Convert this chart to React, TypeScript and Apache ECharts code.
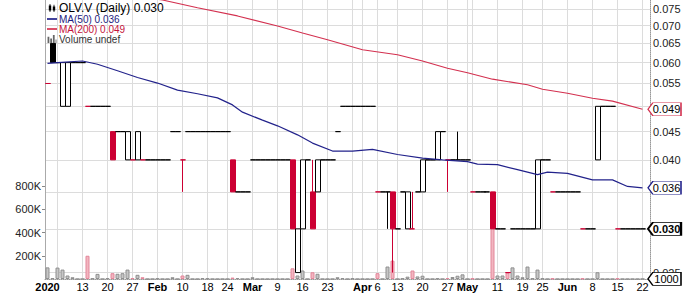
import React, { useEffect, useRef } from 'react';
import * as echarts from 'echarts';

// Trading days (2020), one slot per session
const dates = [
  '01-02','01-03','01-06','01-07','01-08','01-09','01-10','01-13','01-14','01-15',
  '01-16','01-17','01-20','01-21','01-22','01-23','01-24','01-27','01-28','01-29',
  '01-30','01-31','02-03','02-04','02-05','02-06','02-07','02-10','02-11','02-12',
  '02-13','02-14','02-18','02-19','02-20','02-21','02-24','02-25','02-26','02-27',
  '02-28','03-02','03-03','03-04','03-05','03-06','03-09','03-10','03-11','03-12',
  '03-13','03-16','03-17','03-18','03-19','03-20','03-23','03-24','03-25','03-26',
  '03-27','03-30','03-31','04-01','04-02','04-03','04-06','04-07','04-08','04-09',
  '04-13','04-14','04-15','04-16','04-17','04-20','04-21','04-22','04-23','04-24',
  '04-27','04-28','04-29','04-30','05-01','05-04','05-05','05-06','05-07','05-08',
  '05-11','05-12','05-13','05-14','05-15','05-19','05-20','05-21','05-22','05-25',
  '05-26','05-27','05-28','05-29','06-01','06-02','06-03','06-04','06-05','06-08',
  '06-09','06-10','06-11','06-12','06-15','06-16','06-17','06-18','06-19','06-22',
];

const opens = [
  .055,.065,.060,.050,.050,.060,.060,.060,.050,.050,
  .050,.050,.050,.045,.045,.045,.040,.040,.040,.040,
  .040,.040,.040,.040,.040,.045,.045,.040,.045,.045,
  .045,.045,.045,.045,.045,.045,.045,.040,.035,.035,
  .035,.040,.040,.040,.040,.040,.040,.040,.040,.040,
  .025,.030,.040,.035,.035,.040,.040,.040,.045,.050,
  .050,.050,.050,.050,.050,.050,.035,.035,.035,.035,
  .030,.035,.030,.030,.035,.035,.040,.040,.040,.045,
  .040,.040,.040,.040,.040,.035,.035,.035,.035,.035,
  .030,.030,.025,.030,.030,.030,.030,.030,.030,.040,
  .040,.035,.035,.035,.035,.035,.035,.030,.030,.030,
  .040,.050,.050,.050,.030,.030,.030,.030,.030,.030,
];
const highs = [
  .055,.065,.060,.060,.060,.060,.060,.060,.050,.050,
  .050,.050,.050,.045,.045,.045,.045,.040,.045,.040,
  .040,.040,.040,.040,.040,.045,.045,.040,.045,.045,
  .045,.045,.045,.045,.045,.045,.045,.040,.035,.035,
  .035,.040,.040,.040,.040,.040,.040,.040,.040,.040,
  .030,.040,.040,.040,.040,.040,.040,.040,.045,.050,
  .050,.050,.050,.050,.050,.050,.035,.035,.035,.035,
  .030,.035,.035,.035,.035,.040,.040,.040,.045,.045,
  .040,.040,.045,.040,.040,.035,.035,.035,.035,.035,
  .030,.030,.025,.030,.030,.030,.030,.030,.040,.040,
  .040,.035,.035,.035,.035,.035,.035,.030,.030,.030,
  .050,.050,.050,.050,.030,.030,.030,.030,.030,.030,
];
const lows = [
  .055,.060,.060,.050,.050,.060,.060,.060,.050,.050,
  .050,.050,.050,.040,.045,.045,.040,.040,.040,.040,
  .040,.040,.040,.040,.040,.045,.045,.035,.045,.045,
  .045,.045,.045,.045,.045,.045,.045,.035,.035,.035,
  .035,.040,.040,.040,.040,.040,.040,.040,.040,.030,
  .025,.030,.040,.030,.035,.040,.040,.040,.045,.050,
  .050,.050,.050,.050,.050,.050,.035,.035,.030,.025,
  .030,.035,.030,.030,.035,.035,.040,.040,.040,.045,
  .035,.040,.040,.040,.040,.035,.035,.035,.035,.030,
  .030,.030,.025,.030,.030,.030,.030,.030,.030,.040,
  .040,.035,.035,.035,.035,.035,.035,.030,.030,.030,
  .040,.050,.050,.050,.030,.030,.030,.030,.030,.030,
];
const closes = [
  .055,.060,.060,.060,.060,.060,.060,.060,.050,.050,
  .050,.050,.050,.040,.045,.045,.045,.040,.045,.040,
  .040,.040,.040,.040,.040,.045,.045,.040,.045,.045,
  .045,.045,.045,.045,.045,.045,.045,.035,.035,.035,
  .035,.040,.040,.040,.040,.040,.040,.040,.040,.030,
  .030,.040,.040,.030,.040,.040,.040,.040,.045,.050,
  .050,.050,.050,.050,.050,.050,.035,.035,.035,.030,
  .030,.035,.035,.030,.035,.040,.040,.040,.045,.045,
  .040,.040,.040,.040,.040,.035,.035,.035,.035,.030,
  .030,.030,.025,.030,.030,.030,.030,.030,.040,.040,
  .040,.035,.035,.035,.035,.035,.035,.030,.030,.030,
  .050,.050,.050,.050,.030,.030,.030,.030,.030,.030,
];
const prevCloseBeforeStart = 0.060;

const volumes = [
  100000, 7000, 98000, 81000, 30000, 15000, 0, 0, 200000, 5000,
  44000, 0, 7000, 50000, 45000, 50000, 81000, 7000, 36000, 15000,
  0, 0, 5000, 0, 0, 15000, 0, 30000, 36000, 0,
  0, 7000, 5000, 0, 0, 0, 0, 12000, 8000, 0,
  0, 15000, 0, 0, 0, 0, 0, 0, 0, 92000,
  30000, 73000, 0, 58000, 45000, 0, 0, 0, 15000, 7000,
  0, 5000, 0, 0, 0, 0, 50000, 0, 107000, 158000,
  0, 5000, 20000, 73000, 22000, 28000, 0, 0, 5000, 0,
  8000, 17000, 28000, 40000, 0, 5000, 0, 0, 0, 450000,
  30000, 30000, 55000, 100000, 30000, 15000, 107000, 5000, 81000, 5000,
  0, 5000, 0, 0, 0, 0, 0, 5000, 0, 0,
  58000, 0, 0, 0, 5000, 0, 0, 0, 0, 1000,
];

const ma50Dates = ['01-02','01-06','01-13','01-16','01-22','01-28','02-03','02-07','02-13','02-20','02-25','02-27','03-04','03-09','03-13','03-18','03-24','03-30','04-03','04-13','04-20','04-24','05-01','05-05','05-11','05-15','05-22','05-26','06-01','06-08','06-12','06-17','06-22'];
const ma50Values = [0.0598,0.0600,0.0604,0.0596,0.0580,0.0564,0.0551,0.0535,0.0527,0.0518,0.0503,0.0488,0.0472,0.0461,0.0444,0.0429,0.0415,0.0415,0.0418,0.0409,0.0403,0.0400,0.0397,0.0393,0.0392,0.0384,0.0376,0.0380,0.0378,0.0368,0.0368,0.0358,0.0356];

const ma200Dates = ['01-29','02-04','02-13','02-26','03-09','03-16','03-23','04-01','04-13','04-20','04-27','05-01','05-08','05-20','05-25','06-01','06-08','06-12','06-22'];
const ma200Values = [0.0789,0.0779,0.0754,0.0729,0.0699,0.0679,0.0660,0.0633,0.0620,0.0604,0.0586,0.0575,0.0560,0.0547,0.0537,0.0528,0.0517,0.0511,0.0494];

const priceGridTicks = [0.025,0.030,0.035,0.040,0.045,0.050,0.055,0.060,0.065,0.070,0.075];
const priceLabelTicks = [0.025,0.040,0.045,0.055,0.060,0.065,0.070,0.075];
const priceMin = 0.02434;
const priceMax = 0.0779;
const volumeTicks = [200000, 400000, 600000, 800000];
const volumeMax = 2400000;

const xLabelDates = ['01-02','01-13','01-20','01-27','02-03','02-10','02-18','02-24','03-02','03-09','03-16','03-23','04-01','04-06','04-13','04-20','04-27','05-01','05-11','05-19','05-25','06-01','06-08','06-15','06-22'];
const xLabelTexts = ['2020','13','20','27','Feb','10','18','24','Mar','9','16','23','Apr','6','13','20','27','May','11','19','25','Jun','8','15','22'];
const monthTexts = ['2020','Feb','Mar','Apr','May','Jun'];
const gridDates = ['01-06','01-13','01-20','01-27','02-03','02-10','02-18','02-24','03-02','03-09','03-16','03-23','03-30','04-01','04-06','04-13','04-20','04-27','05-01','05-04','05-11','05-19','05-25','06-01','06-08','06-15','06-22'];

const FONT = 'Liberation Sans, Arial, sans-serif';
const RED = '#cc0033';
const BLACK = '#000000';
const MA50_COLOR = '#22228b';
const MA200_COLOR = '#d3304f';

const L = (v: number) => Math.log10(v);

const TAG_PATH = 'path://M0,6L5,0L34,0L34,12L5,12Z';

function tag(coord: [number, number], text: string, color: string, bold = false, bw = 1) {
  return {
    silent: true,
    symbol: TAG_PATH,
    symbolSize: [33, 13],
    symbolKeepAspect: false,
    symbolOffset: [22, 0],
    itemStyle: { color: '#ffffff', borderColor: color, borderWidth: bw },
    label: {
      show: true, position: 'inside', formatter: text, color: '#000',
      fontSize: 11, fontWeight: bold ? 'bold' : 'normal', fontFamily: FONT, offset: [2, 0],
    },
    data: [{ coord }],
  };
}

export default function App() {
  const ref = useRef<HTMLDivElement>(null);
  useEffect(() => {
    if (!ref.current) return;
    const chart = echarts.init(ref.current, undefined, { renderer: 'svg' });
    const last = dates.length - 1;

    const candleData = dates.map((_, i) => {
      const prev = i === 0 ? prevCloseBeforeStart : closes[i - 1];
      const col = closes[i] < prev ? RED : BLACK;
      const fill = closes[i] > opens[i] ? '#ffffff' : col;
      return {
        value: [L(opens[i]), L(closes[i]), L(lows[i]), L(highs[i])],
        itemStyle: { color: fill, color0: fill, borderColor: col, borderColor0: col, borderColorDoji: col },
      };
    });
    const volData = dates.map((_, i) => {
      const prev = i === 0 ? prevCloseBeforeStart : closes[i - 1];
      const down = closes[i] < prev && i > 0;
      return {
        value: volumes[i],
        itemStyle: down
          ? { color: '#f2b6c0', borderColor: '#e3869a', borderWidth: 1 }
          : { color: '#c6c6c6', borderColor: '#8f8f8f', borderWidth: 1 },
      };
    });
    const maSeries = (ds: string[], vs: number[]) =>
      dates.map((d) => {
        const k = ds.indexOf(d);
        return k >= 0 ? L(vs[k]) : null;
      });

    const option: any = {
      animation: false,
      grid: { left: 45, top: 0, width: 605, height: 279 },
      legend: {
        orient: 'vertical', left: 42, top: -3, itemWidth: 10, itemHeight: 8, itemGap: 0,
        selectedMode: false,
        textStyle: { fontFamily: FONT, fontSize: 10, lineHeight: 10, padding: [0, 0, 0, -3] },
        formatter: (name: string) => {
          if (name === 'OLV.V (Daily)') return name + ' ' + closes[last].toFixed(3);
          if (name === 'MA(50)') return name + ' ' + ma50Values[ma50Values.length - 1].toFixed(3);
          if (name === 'MA(200)') return name + ' ' + ma200Values[ma200Values.length - 1].toFixed(3);
          return name + ' undef';
        },
        data: [
          { name: 'OLV.V (Daily)', icon: 'path://M1,0h1v2h1v6h-1v2h-1v-2h-1v-6h1z M6,1h1v2h1v5h-1v2h-1v-2h-1v-5h1z', itemStyle: { color: '#000', borderWidth: 0 }, textStyle: { color: '#000', fontSize: 12, lineHeight: 11 } },
          { name: 'MA(50)', icon: 'path://M0,4h10v1.7h-10z', itemStyle: { color: MA50_COLOR }, textStyle: { color: '#1c1c80' } },
          { name: 'MA(200)', icon: 'path://M0,4h10v1.7h-10z', itemStyle: { color: MA200_COLOR }, textStyle: { color: '#c4143c' } },
          { name: 'Volume', icon: 'path://M0,3h2v7h-2z M3,5h2v5h-2z M6,1h2v9h-2z M9,6h1v4h-1z', itemStyle: { color: '#666', borderWidth: 0 }, textStyle: { color: '#333' } },
        ],
      },
      xAxis: {
        type: 'category', data: dates, boundaryGap: true, max: dates.length,
        axisLine: { show: true, lineStyle: { color: '#999', type: 'dotted' } },
        axisTick: { show: false },
        axisLabel: {
          interval: (_i: number, v: string) => xLabelDates.indexOf(v) >= 0,
          formatter: (v: string) => {
            const k = xLabelDates.indexOf(v);
            if (k < 0) return '';
            const t = xLabelTexts[k];
            return monthTexts.indexOf(t) >= 0 ? '{b|' + t + '}' : t;
          },
          margin: 2, fontSize: 11, color: '#000', fontFamily: FONT,
          rich: { b: { fontWeight: 'bold', fontSize: 11, color: '#000', fontFamily: FONT } },
        },
        splitLine: {
          show: true, alignWithLabel: true,
          interval: (_i: number, v: string) => gridDates.indexOf(v) >= 0,
          lineStyle: { color: '#dcdcdc', width: 1 },
        },
      },
      yAxis: [
        {
          type: 'value', position: 'right', min: L(priceMin), max: L(priceMax),
          axisLine: { show: true, lineStyle: { color: '#999', type: 'dotted' } },
          axisTick: { show: false, customValues: priceGridTicks.map(L) },
          axisLabel: {
            customValues: priceLabelTicks.map(L), margin: 3, fontSize: 11, color: '#222', fontFamily: FONT,
            formatter: (v: number) => Math.pow(10, v).toFixed(3),
          },
          splitLine: { show: true, customValues: priceGridTicks.map(L), lineStyle: { color: '#dcdcdc', width: 1 } },
        },
        {
          type: 'value', position: 'left', min: 0, max: volumeMax,
          axisLine: { show: true, lineStyle: { color: '#aaa' } },
          axisTick: { show: true, length: 3, customValues: volumeTicks, lineStyle: { color: '#888' } },
          axisLabel: {
            customValues: volumeTicks, margin: 4, fontSize: 11, color: '#222', fontFamily: FONT,
            formatter: (v: number) => v / 1000 + 'K',
          },
          splitLine: { show: false },
        },
      ],
      series: [
        {
          name: 'Volume', type: 'bar', xAxisIndex: 0, yAxisIndex: 1, barWidth: 4,
          data: volData, silent: true,
          markPoint: tag([last, volumes[last]], String(volumes[last]), '#000'),
        },
        {
          name: 'OLV.V (Daily)', type: 'candlestick', xAxisIndex: 0, yAxisIndex: 0, barWidth: 5.5,
          data: candleData, silent: true,
          itemStyle: { borderWidth: 1 },
          markPoint: tag([last, L(closes[last])], closes[last].toFixed(3), '#000', true, 1.5),
        },
        {
          name: 'MA(200)', type: 'line', yAxisIndex: 0, data: maSeries(ma200Dates, ma200Values),
          connectNulls: true, showSymbol: false, symbol: 'none', silent: true,
          lineStyle: { color: MA200_COLOR, width: 1.1 }, itemStyle: { color: MA200_COLOR },
          markPoint: tag([last, L(ma200Values[ma200Values.length - 1])], ma200Values[ma200Values.length - 1].toFixed(3), MA200_COLOR),
        },
        {
          name: 'MA(50)', type: 'line', yAxisIndex: 0, data: maSeries(ma50Dates, ma50Values),
          connectNulls: true, showSymbol: false, symbol: 'none', silent: true,
          lineStyle: { color: MA50_COLOR, width: 1.2 }, itemStyle: { color: MA50_COLOR },
          markPoint: tag([last, L(ma50Values[ma50Values.length - 1])], ma50Values[ma50Values.length - 1].toFixed(3), MA50_COLOR),
        },
      ],
    };
    chart.setOption(option);
    return () => chart.dispose();
  }, []);
  return <div ref={ref} style={{ position: 'absolute', left: 0, top: 0, width: 700, height: 293 }} />;
}
